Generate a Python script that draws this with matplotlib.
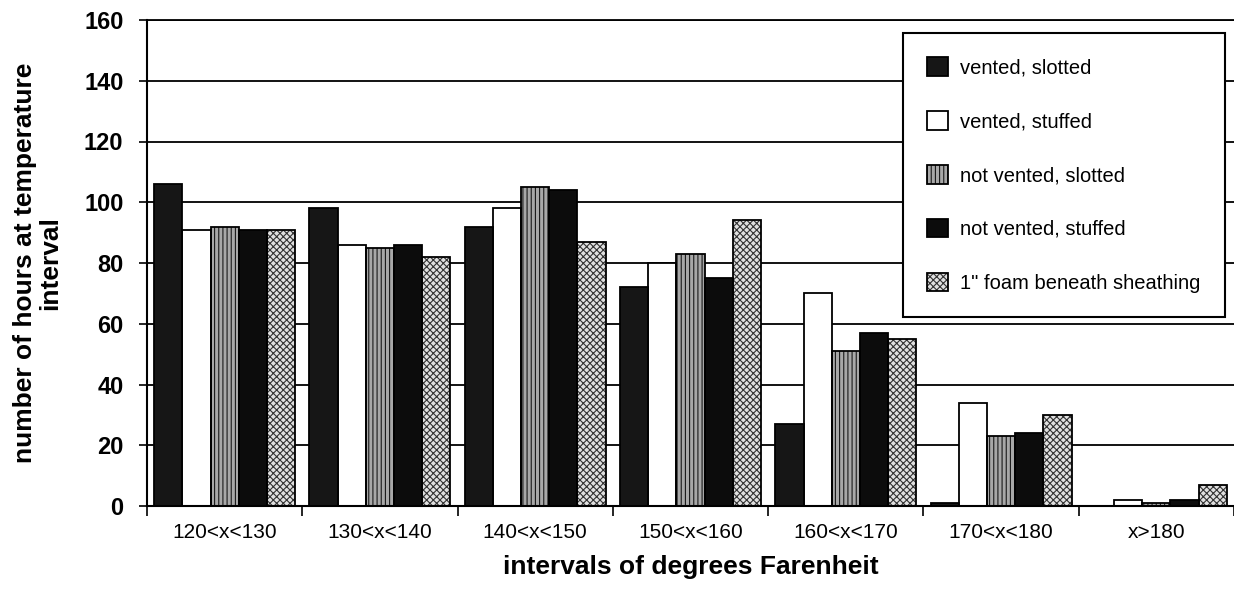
import numpy as np
import matplotlib.pyplot as plt

plt.rcParams['font.family'] = ['Liberation Sans', 'DejaVu Sans']
plt.rcParams['hatch.linewidth'] = 0.8

categories = ['120<x<130', '130<x<140', '140<x<150', '150<x<160',
              '160<x<170', '170<x<180', 'x>180']
vented_slotted = [106, 98, 92, 72, 27, 1, 0]
vented_stuffed = [91, 86, 98, 80, 70, 34, 2]
not_vented_slotted = [92, 85, 105, 83, 51, 23, 1]
not_vented_stuffed = [91, 86, 104, 75, 57, 24, 2]
foam_sheathing = [91, 82, 87, 94, 55, 30, 7]

series = [
    ('vented, slotted', vented_slotted, '#161616', '#161616', ''),
    ('vented, stuffed', vented_stuffed, 'white', 'white', ''),
    ('not vented, slotted', not_vented_slotted, '#a8a8a8', '#1a1a1a', '||||'),
    ('not vented, stuffed', not_vented_stuffed, '#0c0c0c', '#0c0c0c', ''),
    ('1" foam beneath sheathing', foam_sheathing, '#e0e0e0', '#333333', 'xxxxx'),
]

fig = plt.figure(figsize=(12.34, 5.89), dpi=100)
ax = fig.add_axes([147 / 1234, 83 / 589, 1087 / 1234, 486 / 589])

x = np.arange(len(categories))
w = 0.1815
handles = []
for k, (name, vals, face, hcol, hatch) in enumerate(series):
    pos = x + (k - 2) * w
    fill = ax.bar(pos, vals, w, color=face, edgecolor=hcol, hatch=hatch,
                  linewidth=0, zorder=2)
    outline = ax.bar(pos, vals, w, fill=False, edgecolor='black',
                     linewidth=1.3, zorder=3)
    handles.append((fill, outline))

ax.set_xlim(-0.5, 6.5)
ax.set_ylim(0, 160)
ax.set_yticks(range(0, 161, 20))
ax.set_xticks(np.arange(-0.5, 7, 1))
ax.set_xticklabels([])
ax.set_xticks(x, minor=True)
ax.set_xticklabels(categories, minor=True)

ax.tick_params(axis='x', which='major', length=7, width=1.2, direction='out')
ax.tick_params(axis='x', which='minor', length=0, pad=12, labelsize=15)
ax.tick_params(axis='y', length=6, width=1.2, pad=11, labelsize=17)
for t in ax.get_yticklabels():
    t.set_fontweight('bold')

ax.yaxis.grid(True, color='black', linewidth=1.3)
ax.set_axisbelow(True)
ax.spines['right'].set_visible(False)
ax.spines['left'].set_linewidth(1.5)
ax.spines['bottom'].set_linewidth(1.5)
ax.spines['top'].set_linewidth(1.3)

ax.set_ylabel('number of hours at temperature\ninterval', fontsize=19,
              fontweight='bold', linespacing=1.05)
ax.yaxis.set_label_coords(-0.078, 0.5)
ax.set_xlabel('intervals of degrees Farenheit', fontsize=19, fontweight='bold')
ax.xaxis.set_label_coords(0.5, -0.10)

leg = ax.legend(handles, [s[0] for s in series], loc='upper left',
                bbox_to_anchor=(903 / 1234, 1 - 33 / 589),
                bbox_transform=fig.transFigure, fontsize=14.5,
                frameon=True, fancybox=False, framealpha=1,
                borderpad=1.2, labelspacing=1.67, handlelength=1.05,
                handleheight=1.05, handletextpad=0.6, borderaxespad=0)
leg.get_frame().set_edgecolor('black')
leg.get_frame().set_linewidth(1.5)

fig.savefig('out.png', dpi=100)
